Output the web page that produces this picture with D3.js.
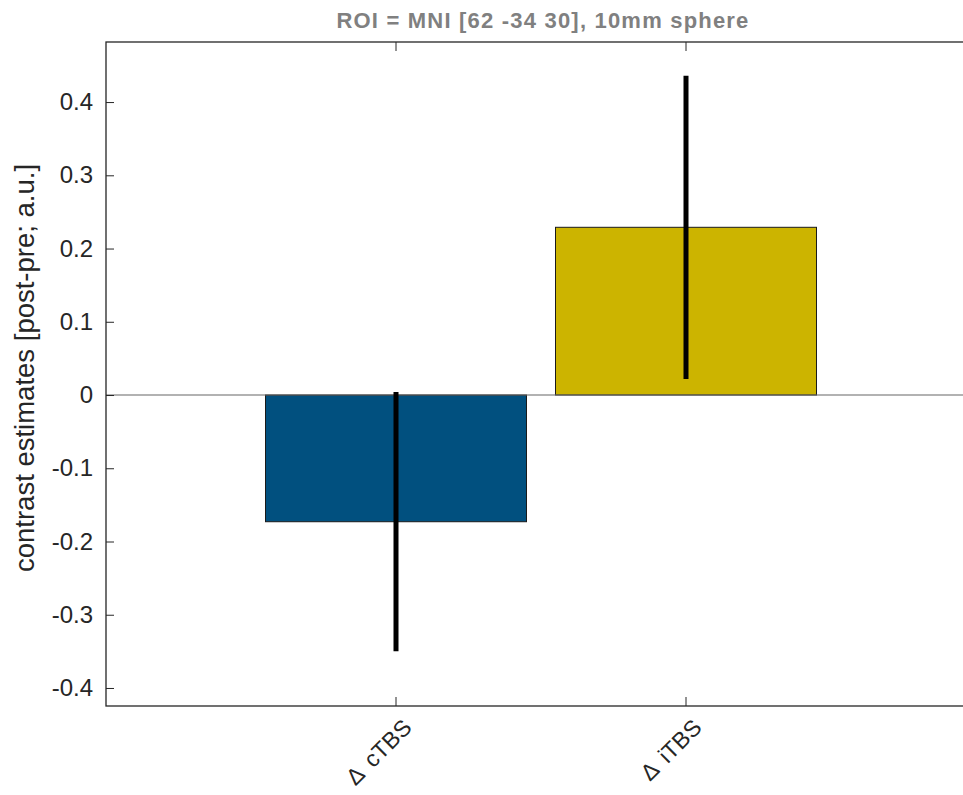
<!DOCTYPE html>
<html>
<head>
<meta charset="utf-8">
<script src="https://cdn.jsdelivr.net/npm/d3@7"></script>
<style>
  body { margin: 0; background: #fff; overflow: hidden; }
  text { font-family: "Liberation Sans", Arial, sans-serif; }
</style>
</head>
<body>
<div id="container"></div>
<script>
// values
const conditions = ["\u0394 \u2009cTBS", "\u0394 \u2009iTBS"];
const means = [-0.173, 0.229];
const errors = [0.177, 0.207];
const barColors = ["#01507f", "#ccb400"];
const yTicks = [-0.4, -0.3, -0.2, -0.1, 0, 0.1, 0.2, 0.3, 0.4];
const yLimits = [-0.4246, 0.482];
const title = "ROI = MNI [62 -34 30], 10mm sphere";
const yLabel = "contrast estimates [post-pre; a.u.]";

const W = 963, H = 795;
const margin = { top: 42, left: 106 };
const plotW = 870, plotH = 664;

const svg = d3.select("#container").append("svg")
  .attr("width", W).attr("height", H);

const g = svg.append("g")
  .attr("transform", `translate(${margin.left},${margin.top})`);

// categories sit at 1 and 2 on a 0..3 axis (matlab style)
const x = d3.scaleLinear().domain([0, 3]).range([0, plotW]);
const y = d3.scaleLinear().domain(yLimits).range([plotH, 0]);
const barW = 0.9;

const data = conditions.map((c, i) => ({ c, i, m: means[i], e: errors[i] }));

// bars
g.selectAll(".bar").data(data).enter().append("rect")
  .attr("class", "bar")
  .attr("x", d => x(d.i + 1 - barW / 2))
  .attr("width", d => x(barW) - x(0))
  .attr("y", d => y(Math.max(0, d.m)))
  .attr("height", d => Math.abs(y(d.m) - y(0)))
  .attr("fill", (d, i) => barColors[i])
  .attr("stroke", "#1a1a1a")
  .attr("stroke-width", 1);

// baseline
g.append("line")
  .attr("x1", 0).attr("x2", plotW)
  .attr("y1", y(0)).attr("y2", y(0))
  .attr("stroke", "#666").attr("stroke-width", 1.2);

// error bars (no caps)
g.selectAll(".err").data(data).enter().append("line")
  .attr("class", "err")
  .attr("x1", d => x(d.i + 1)).attr("x2", d => x(d.i + 1))
  .attr("y1", d => y(d.m + d.e)).attr("y2", d => y(d.m - d.e))
  .attr("stroke", "#000").attr("stroke-width", 5);

// axes
const axisColor = "#262626";
const yAxis = d3.axisLeft(y).tickValues(yTicks)
  .tickSize(-8).tickPadding(13)
  .tickFormat(d => d === 0 ? "0" : d3.format(".1f")(d).replace("\u2212", "-"));
const yG = g.append("g").call(yAxis);
yG.select(".domain").remove();
yG.selectAll(".tick line").attr("stroke", axisColor);
yG.selectAll(".tick text").attr("fill", axisColor).attr("font-size", 24);

// box
g.append("rect")
  .attr("x", 0).attr("y", 0).attr("width", plotW).attr("height", plotH)
  .attr("fill", "none").attr("stroke", axisColor).attr("stroke-width", 1.3);

// x ticks bottom and top
[1, 2].forEach(v => {
  g.append("line").attr("x1", x(v)).attr("x2", x(v))
    .attr("y1", plotH).attr("y2", plotH - 9).attr("stroke", axisColor);
  g.append("line").attr("x1", x(v)).attr("x2", x(v))
    .attr("y1", 0).attr("y2", 9).attr("stroke", axisColor);
});

// rotated x labels
g.selectAll(".xlab").data(data).enter().append("text")
  .attr("class", "xlab")
  .attr("transform", d => `translate(${x(d.i + 1) + 17},${plotH + 23}) rotate(-45)`)
  .attr("text-anchor", "end")
  .attr("font-size", 23)
  .attr("fill", axisColor)
  .text(d => d.c);

// y label
svg.append("text")
  .attr("transform", `translate(34,368) rotate(-90)`)
  .attr("text-anchor", "middle")
  .attr("font-size", 27.5)
  .attr("fill", axisColor)
  .text(yLabel);

// title
svg.append("text")
  .attr("x", margin.left + plotW / 2 + 2)
  .attr("y", 28)
  .attr("text-anchor", "middle")
  .attr("font-size", 22)
  .attr("letter-spacing", 1.2)
  .attr("font-weight", "bold")
  .attr("fill", "#808080")
  .text(title);
</script>
</body>
</html>
